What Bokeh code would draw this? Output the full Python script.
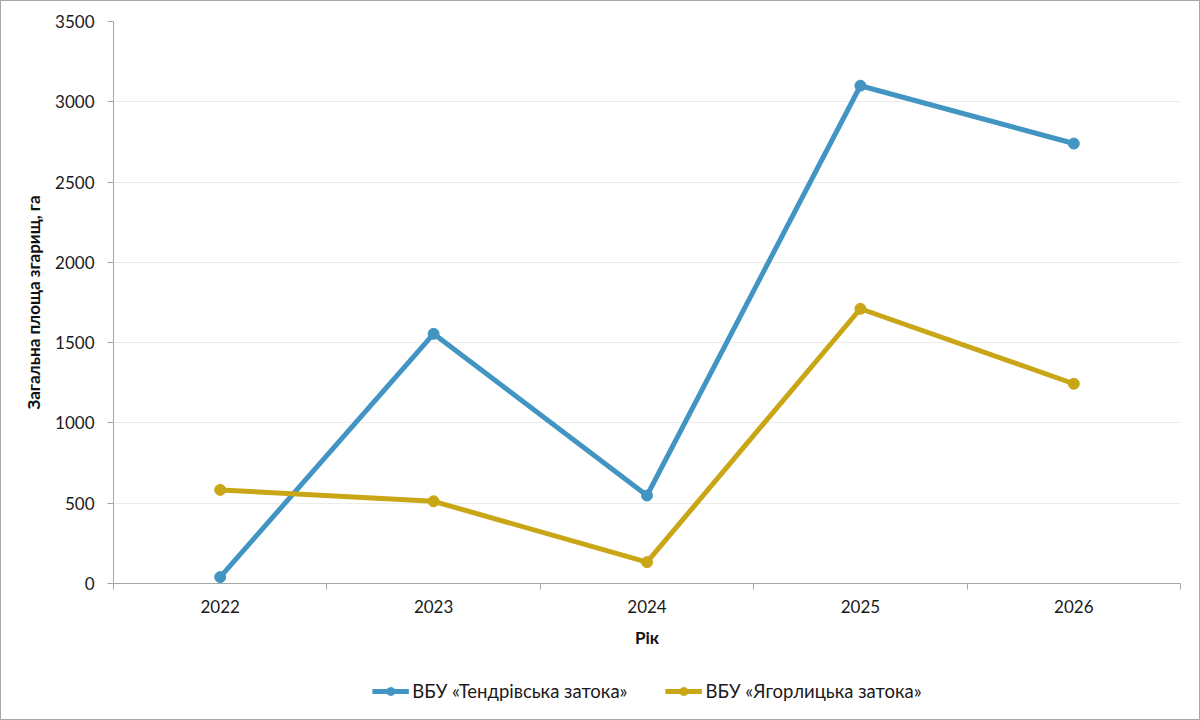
from bokeh.plotting import figure
from bokeh.models import Range1d, FixedTicker, Legend, LegendItem
from bokeh.layouts import column
from bokeh.embed import file_html
from bokeh.resources import INLINE

# data
years = [2022, 2023, 2024, 2025, 2026]
tendra = [40, 1555, 548, 3100, 2740]
yahorlyk = [583, 512, 133, 1711, 1244]
y_ticks = [0, 500, 1000, 1500, 2000, 2500, 3000, 3500]
series_names = ["ВБУ «Тендрівська затока»", "ВБУ «Ягорлицька затока»"]
colors = ["#4295c3", "#c9a615"]

FONT = "Lato"

p = figure(frame_width=1067, frame_height=562,
           x_range=Range1d(years[0] - 0.5, years[-1] + 0.5),
           y_range=Range1d(y_ticks[0], y_ticks[-1]),
           output_backend="svg", toolbar_location=None,
           min_border_left=112, min_border_right=19,
           min_border_top=20, min_border_bottom=80)
p.outline_line_color = None
p.background_fill_color = "white"
p.border_fill_color = "white"

# y axis
p.yaxis.ticker = FixedTicker(ticks=y_ticks)
p.yaxis.axis_label = "Загальна площа згарищ, га"
p.yaxis.axis_label_text_font = FONT
p.yaxis.axis_label_text_font_size = "17px"
p.yaxis.axis_label_text_font_style = "bold"
p.yaxis.axis_label_text_color = "#111111"
p.yaxis.axis_label_standoff = 8
p.yaxis.major_label_text_font = FONT
p.yaxis.major_label_text_font_size = "17px"
p.yaxis.major_label_text_color = "#1a1a1a"
p.yaxis.major_label_standoff = 13
p.yaxis.axis_line_color = "#a6a6a6"
p.yaxis.major_tick_line_color = "#a6a6a6"
p.yaxis.major_tick_out = 6
p.yaxis.major_tick_in = 0
p.yaxis.minor_tick_line_color = None

# x axis: labels at years, tick marks between categories
half = [y - 0.5 for y in years] + [years[-1] + 0.5]
p.xaxis.ticker = FixedTicker(ticks=years, minor_ticks=half)
p.xaxis.axis_label = "Рік"
p.xaxis.axis_label_text_font = FONT
p.xaxis.axis_label_text_font_size = "17px"
p.xaxis.axis_label_text_font_style = "bold"
p.xaxis.axis_label_text_color = "#111111"
p.xaxis.axis_label_standoff = 11
p.xaxis.major_label_text_font = FONT
p.xaxis.major_label_text_font_size = "17px"
p.xaxis.major_label_text_color = "#1a1a1a"
p.xaxis.major_label_standoff = 10
p.xaxis.axis_line_color = "#a6a6a6"
p.xaxis.major_tick_out = 0
p.xaxis.major_tick_in = 0
p.xaxis.minor_tick_line_color = "#a6a6a6"
p.xaxis.minor_tick_out = 6
p.xaxis.minor_tick_in = 0

p.xgrid.grid_line_color = None
p.ygrid.ticker = FixedTicker(ticks=y_ticks)
p.ygrid.grid_line_color = "#ececec"

for vals, col in zip([tendra, yahorlyk], colors):
    p.line(years, vals, line_color=col, line_width=5)
    p.scatter(years, vals, size=11, fill_color=col, line_color=col)

# legend strip under the chart (its own renderers sit outside its view)
lf = figure(width=1198, height=56, x_range=Range1d(0, 1), y_range=Range1d(0, 1),
            x_axis_location=None, y_axis_location=None,
            output_backend="svg", toolbar_location=None, min_border=0)
lf.grid.grid_line_color = None
lf.outline_line_color = None

items = []
for name, vals, col in zip(series_names, [tendra, yahorlyk], colors):
    ln = lf.line(years, vals, line_color=col, line_width=5)
    sc = lf.scatter(years, vals, size=11, fill_color=col, line_color=col)
    items.append(LegendItem(label=name, renderers=[ln, sc]))

legend = Legend(items=items, orientation="horizontal", location="center",
                label_text_font=FONT, label_text_font_size="18.5px",
                label_text_color="#1a1a1a", glyph_width=37, label_standoff=4,
                spacing=37, border_line_color=None, background_fill_alpha=0,
                margin=0, padding=0)
lf.add_layout(legend)

layout = column(p, lf, spacing=0, styles={"border": "1px solid #a8a8a8"})

open("out.html", "w").write(file_html(layout, INLINE))
